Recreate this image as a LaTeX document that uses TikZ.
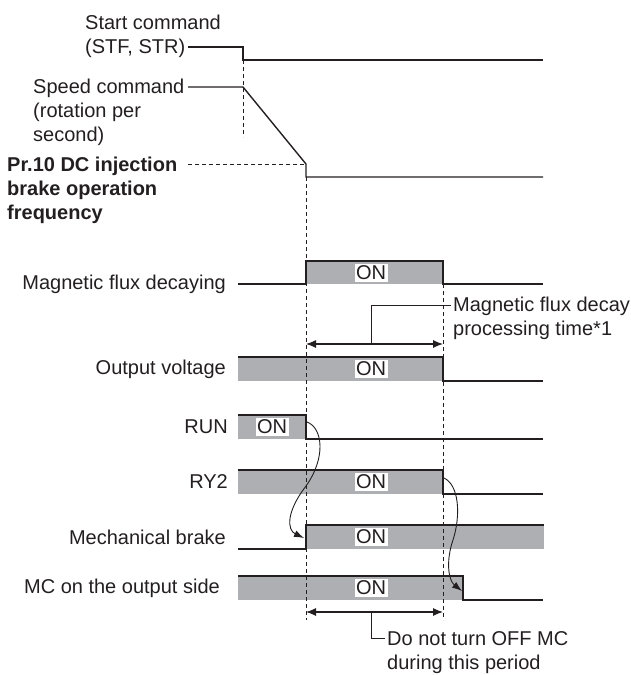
\documentclass[tikz,border=0pt]{standalone}
\usepackage{fontspec}
\setmainfont{Liberation Sans}
\usetikzlibrary{arrows.meta}
\definecolor{ongray}{HTML}{ADAFB2}
\definecolor{ink}{HTML}{231F20}

\begin{document}
\begin{tikzpicture}[x=1pt, y=-1pt, >=Latex, font=\fontsize{20}{24}\selectfont, text=ink,
    sig/.style={line width=1.4pt, draw=ink},
    onlbl/.style={fill=white, inner sep=1.5pt},
    lbl/.style={anchor=east, inner sep=0pt},
    txt/.style={align=left, anchor=west, inner sep=0pt},
    guide/.style={dash pattern=on 4pt off 3pt, line width=0.9pt, draw=ink},
    lead/.style={line width=0.9pt, draw=ink},
    dim/.style={{Latex[length=10pt,width=8pt]}-{Latex[length=10pt,width=8pt]}, line width=1.1pt, draw=ink},
    cause/.style={-{Latex[length=10pt,width=7pt]}, line width=0.9pt, draw=ink}]
    \useasboundingbox (0,0) rectangle (631,675);

    % texts
    \node[txt] (start) at (85,36)  {Start command\\(STF, STR)};
    \node[txt] (speed) at (33,112) {Speed command\\(rotation per\\second)};
    \node[txt, font=\fontsize{20}{24}\selectfont\bfseries] (pr10) at (7,190)
      {Pr.10 DC injection\\brake operation\\frequency};
    \node[lbl] (mfd) at (226,284) {Magnetic flux decaying};
    \node[lbl] (vout) at (226,369) {Output voltage};
    \node[lbl] (run) at (228,427) {RUN};
    \node[lbl] (ry2) at (228,482) {RY2};
    \node[lbl] (mbrk) at (226,537) {Mechanical brake};
    \node[lbl] (mc) at (220,588) {MC on the output side};

    % ON areas
    \fill[ongray] (306,261) rectangle (443,284);
    \fill[ongray] (238,357) rectangle (443,381);
    \fill[ongray] (238,415) rectangle (306,439);
    \fill[ongray] (238,470) rectangle (443,494);
    \fill[ongray] (306,525) rectangle (544,549);
    \fill[ongray] (238,576) rectangle (463,600);

    % signals
    \draw[sig] (188,47) -- (243,47) -- (243,60) -- (543,60);
    \draw[sig] (188,87) -- (243,87) -- (306,164) -- (306,177) -- (543,177);
    \draw[sig] (238,284) -- (306,284) -- (306,261) -- (443,261) -- (443,284) -- (543,284);
    \draw[sig] (238,357) -- (443,357) -- (443,381) -- (543,381);
    \draw[sig] (238,415) -- (306,415) -- (306,439) -- (543,439);
    \draw[sig] (238,470) -- (443,470) -- (443,494) -- (543,494);
    \draw[sig] (238,549) -- (306,549) -- (306,525) -- (544,525);
    \draw[sig] (238,576) -- (463,576) -- (463,600) -- (543,600);

    % timing guides
    \draw[guide] (243,60) -- (243,137);
    \draw[guide] (188,164) -- (306,164);
    \draw[guide] (306,177) -- (306,620);
    \draw[guide] (443,284) -- (443,620);

    \foreach \n/\x/\y in {fon/371/273, von/371/369, ron/272/427, yon/371/482, bon/371/537, mon/371/588}
      \node[onlbl] (\n) at (\x,\y) {ON};

    % decay time
    \coordinate (fa) at (306,344);
    \coordinate (fb) at (443,344);
    \coordinate (fm) at (371,344);
    \draw[dim] (fa) -- (fb);
    \node[txt] (decay) at (453,318) {Magnetic flux decay\\processing time*1};
    \coordinate (fl) at (451,305);
    \draw[lead] (fl) -| (fm);

    % do not turn off period
    \coordinate (pa) at (306,612);
    \coordinate (pb) at (443,612);
    \coordinate (pm) at (371,612);
    \draw[dim] (pa) -- (pb);
    \node[txt] (period) at (387,653) {Do not turn OFF MC\\during this period};
    \coordinate (pl) at (385,638);
    \draw[lead] (pm) |- (pl);

    % cause arrows
    \coordinate (r1) at (307,422);
    \coordinate (b1) at (304,538);
    \draw[cause] (r1) .. controls (323,428) and (326,458) .. (306,486)
                      .. controls (286,512) and (287,530) .. (b1);
    \coordinate (y1) at (444,478);
    \coordinate (m1) at (462,591);
    \draw[cause] (y1) .. controls (459,485) and (461,515) .. (453,540)
                      .. controls (446,560) and (448,580) .. (m1);
\end{tikzpicture}
\end{document}
